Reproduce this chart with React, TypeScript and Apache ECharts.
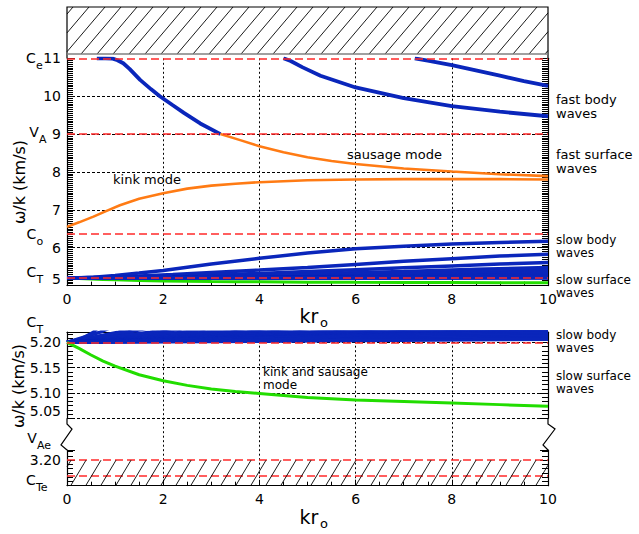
import React, { useEffect, useRef } from 'react';
import * as echarts from 'echarts';

const FONT = 'DejaVu Sans';
const BLUE = '#0a26bb';
const ORANGE = '#ff7b14';
const GREEN = '#22dd00';
const RED = '#ff2a2a';

// x axis (kr_o)
const KR_MIN = 0;
const KR_MAX = 10;
const KR_STEP = 2;

// characteristic speeds (km/s)
const C_E = 11.0;
const V_A = 9.0;
const C_O = 6.36;
const C_T = 5.2;
const V_AE = 3.2;
const C_TE = 3.168;

// y ranges
const TOP_Y = [5, 11];
const TOP_Y_STEP = 1;
const BOT_UP_Y = [5.05, 5.22];
const BOT_UP_STEP = 0.05;
const BOT_UP_LABELS = ['5.05', '5.10', '5.15', '5.20'];
const BOT_LOW_Y = [3.15, 3.22];
const BOT_LOW_STEP = 0.05;
const BOT_LOW_LABELS = ['3.20'];

// fast body waves [kr, w/k]
const FAST_BODY_1 = [[0.62, 11.0], [0.8, 11.0], [0.95, 10.99], [1.05, 10.95], [1.17, 10.87], [1.3, 10.72], [1.52, 10.43], [1.75, 10.18], [1.93, 10.0], [2.2, 9.76], [2.43, 9.56], [2.77, 9.28], [3.19, 9.0]];
const FAST_BODY_2 = [[4.5, 11.0], [4.65, 10.93], [4.9, 10.76], [5.27, 10.54], [6, 10.23], [7, 9.95], [8, 9.74], [9, 9.59], [10, 9.47]];
const FAST_BODY_3 = [[7.23, 11.0], [7.5, 10.94], [8, 10.82], [8.5, 10.68], [9, 10.54], [9.5, 10.4], [10, 10.27]];

// fast surface waves
const SAUSAGE_SURFACE = [[3.19, 9.0], [3.6, 8.84], [4, 8.68], [4.5, 8.52], [5, 8.39], [5.5, 8.29], [6, 8.21], [7, 8.09], [8, 8.01], [9, 7.94], [10, 7.89]];
const KINK_SURFACE = [[0, 6.55], [0.25, 6.67], [0.55, 6.82], [0.8, 6.96], [1.1, 7.12], [1.5, 7.29], [2, 7.44], [2.5, 7.56], [3, 7.64], [3.5, 7.69], [4, 7.73], [5, 7.78], [6, 7.8], [7, 7.81], [8, 7.81], [9, 7.81], [10, 7.8]];

// slow surface wave (kink and sausage)
const SLOW_SURFACE = [[0, 5.2], [0.25, 5.188], [0.5, 5.175], [0.75, 5.163], [1, 5.153], [1.5, 5.136], [2, 5.124], [2.5, 5.115], [3, 5.108], [3.5, 5.103], [4, 5.099], [5, 5.091], [6, 5.086], [7, 5.083], [8, 5.08], [9, 5.077], [10, 5.074]];

// slow body waves (harmonics)
const SLOW_BODY = [
  [[0, 5.2], [0.3, 5.207], [0.55, 5.22], [1, 5.265], [1.5, 5.33], [2, 5.4], [3, 5.57], [4, 5.72], [5, 5.86], [6, 5.97], [7, 6.04], [8, 6.1], [9, 6.14], [10, 6.17]],
  [[0, 5.2], [0.69, 5.22], [1.5, 5.255], [2.2, 5.29], [3, 5.345], [4, 5.41], [5, 5.48], [6, 5.56], [7, 5.64], [8, 5.71], [9, 5.78], [10, 5.83]],
  [[0, 5.2], [1.07, 5.22], [2, 5.245], [3, 5.28], [4, 5.32], [5, 5.37], [6, 5.42], [7, 5.47], [8, 5.52], [9, 5.57], [10, 5.61]],
  [[0, 5.2], [1.27, 5.22], [3, 5.255], [5, 5.31], [7, 5.37], [8.5, 5.43], [10, 5.48]],
  [[0, 5.2], [1.73, 5.22], [4, 5.26], [6, 5.31], [8, 5.37], [10, 5.44]],
  [[0, 5.2], [1.94, 5.22], [4, 5.25], [6, 5.29], [8, 5.34], [10, 5.4]],
  [[0, 5.2], [2.42, 5.22], [5, 5.255], [7.5, 5.3], [10, 5.36]],
  [[0, 5.2], [2.91, 5.22], [5, 5.24], [7.5, 5.28], [10, 5.33]],
  [[0, 5.2], [3.4, 5.22], [6, 5.245], [8, 5.27], [10, 5.3]],
  [[0, 5.2], [3.74, 5.22], [6, 5.24], [8, 5.26], [10, 5.285]],
  [[0, 5.2], [4.16, 5.22], [7, 5.245], [10, 5.27]],
  [[0, 5.2], [4.7, 5.22], [7, 5.235], [10, 5.255]],
  [[0, 5.2], [5.06, 5.22], [7.5, 5.232], [10, 5.245]],
  [[0, 5.2], [5.54, 5.22], [8, 5.23], [10, 5.237]],
  [[0, 5.2], [6.03, 5.22], [8, 5.226], [10, 5.232]],
  [[0, 5.2], [6.57, 5.22], [10, 5.228]],
  [[0, 5.2], [7.0, 5.22], [10, 5.226]],
  [[0, 5.2], [7.62, 5.22], [10, 5.224]],
  [[0, 5.2], [8.18, 5.22], [10, 5.2225]],
  [[0, 5.2], [8.74, 5.22], [10, 5.2215]],
  [[0, 5.2], [9.3, 5.22], [10, 5.2208]],
  [[0, 5.2], [9.7, 5.22], [10, 5.2203]],
  [[0, 5.2], [10, 5.218]],
  [[0, 5.2], [10, 5.215]],
  [[0, 5.2], [10, 5.212]],
  [[0, 5.2], [10, 5.209]],
  [[0, 5.2], [10, 5.206]],
];

// ---------- layout (px) ----------
const L = 67;
const W = 481;
const R = L + W;
const G0_T = 58.3, G0_B = 285.6;
const G1_T = 332.2, G1_B = 418.3;
const G2_T = 450, G2_B = 485.7;

function hatchLines(x0: number, y0: number, x1: number, y1: number, spacing: number, k: number, phase: number) {
  const h = y1 - y0;
  const els: any[] = [];
  for (let c = x0 - k * h + phase; c < x1; c += spacing) {
    const ya = Math.max(y0, y1 - (x1 - c) / k);
    const yb = Math.min(y1, y1 - (x0 - c) / k);
    if (yb - ya < 0.5) continue;
    els.push({
      type: 'line', silent: true, z: 20,
      shape: { x1: c + k * (y1 - yb), y1: yb, x2: c + k * (y1 - ya), y2: ya },
      style: { stroke: '#000', lineWidth: 0.9 },
    });
  }
  return els;
}

function txt(text: string, x: number, y: number, size: number, align = 'center', extra: any = {}, lineHeight?: number) {
  return {
    type: 'text', x, y, silent: true, z: 30, ...extra,
    style: {
      text, fontSize: size, fontFamily: FONT, fill: '#000', lineHeight: lineHeight ?? size - 2,
      align, verticalAlign: 'middle', textAlign: align, textVerticalAlign: 'middle',
    },
  };
}

// letter with subscript, as two texts
function sub(main: string, s: string, x: number, y: number) {
  return [txt(main, x, y, 14), txt(s, x + 5, y + 7, 11, 'left')];
}

function poly(points: number[][], stroke = '#000', lineWidth = 1.2) {
  return { type: 'polyline', silent: true, z: 25, shape: { points }, style: { stroke, lineWidth, fill: 'none' } };
}

const axisText = { fontSize: 14, fontFamily: FONT, color: '#000' };
const blackLine = { show: true, lineStyle: { color: '#000', width: 1.2 } };

function yAxisCfg(grid: number, range: number[], step: number, pos: 'left' | 'right', labels: ((v: number) => string) | null, split: boolean, minorSplit: number) {
  return {
    type: 'value', gridIndex: grid, min: range[0], max: range[1], interval: step, position: pos,
    axisLine: blackLine,
    axisTick: { show: true, inside: true, length: 8, lineStyle: { color: '#000', width: 1 } },
    minorTick: { show: true, splitNumber: minorSplit, length: 6, lineStyle: { color: '#000', width: 1 } },
    axisLabel: labels ? { show: true, ...axisText, margin: 6, formatter: labels, verticalAlignMinLabel: 'bottom' } : { show: false },
    splitLine: split ? { show: true, showMaxLine: false, lineStyle: { color: '#000', type: [3, 2], width: 1 } } : { show: false },
  };
}

function lineSeries(data: number[][], color: string, width: number, xi: number, yi: number, z = 2) {
  return {
    type: 'line', xAxisIndex: xi, yAxisIndex: yi, data, showSymbol: false, symbol: 'none',
    lineStyle: { color, width }, itemStyle: { color }, silent: true, animation: false, z, clip: true,
    emphasis: { disabled: true },
  };
}

function redLines(xi: number, yi: number, values: number[]) {
  return {
    type: 'line', xAxisIndex: xi, yAxisIndex: yi, data: [], silent: true, z: 10,
    markLine: {
      silent: true, symbol: ['none', 'none'], animation: false, label: { show: false },
      lineStyle: { color: RED, type: [8, 4], width: 1.5 },
      emphasis: { disabled: true },
      data: values.map((v) => ({ yAxis: v })),
    },
  };
}

export default function App() {
  const ref = useRef<HTMLDivElement>(null);
  useEffect(() => {
    document.body.style.margin = '0';
    if (!ref.current) return;
    const chart = echarts.init(ref.current, undefined, { renderer: 'svg' });

    const topFmt = (v: number) => (Number.isInteger(v) ? String(v) : '');
    const upFmt = (v: number) => { const s = v.toFixed(2); return BOT_UP_LABELS.includes(s) && Math.abs(v - parseFloat(s)) < 1e-6 ? s : ''; };
    const lowFmt = (v: number) => { const s = v.toFixed(2); return BOT_LOW_LABELS.includes(s) && Math.abs(v - parseFloat(s)) < 1e-6 ? s : ''; };

    const series: any[] = [];
    SLOW_BODY.forEach((d) => series.push(lineSeries(d, BLUE, 3.5, 0, 0)));
    [FAST_BODY_1, FAST_BODY_2, FAST_BODY_3].forEach((d) => series.push(lineSeries(d, BLUE, 3.8, 0, 0)));
    series.push(lineSeries(KINK_SURFACE, ORANGE, 2.6, 0, 0, 3));
    series.push(lineSeries(SAUSAGE_SURFACE, ORANGE, 2.6, 0, 0, 3));
    series.push(lineSeries(SLOW_SURFACE, GREEN, 3, 0, 0, 1));
    series.push(redLines(0, 0, [C_E, V_A, C_O, C_T]));
    SLOW_BODY.forEach((d) => series.push(lineSeries(d, BLUE, 3.5, 1, 2)));
    series.push(lineSeries(SLOW_SURFACE, GREEN, 3, 1, 2, 3));
    series.push(redLines(1, 2, [C_T]));
    series.push(redLines(2, 4, [V_AE, C_TE]));

    const graphics: any[] = [
      // hatched forbidden region above C_e
      poly([[L, G0_T], [L, 7], [R, 7], [R, G0_T]]),
      { type: 'line', silent: true, z: 25, shape: { x1: L, y1: 54, x2: R, y2: 54 }, style: { stroke: '#808080', lineWidth: 1.5 } },
      ...hatchLines(L, 7, R, 54, 16, 0.85, 6),
      // hatched region below V_Ae
      ...hatchLines(L, G2_T + 10.2, R, G2_B, 15, 0.6, 4),
      // broken axis zigzags
      poly([[L, G1_B], [L, 424], [72, 429], [61, 445], [L, G2_T]]),
      poly([[R, G1_B], [R, 424], [555, 429], [543, 445], [R, G2_T]]),
      // left labels
      ...sub('C', 'e', 31, 58),
      ...sub('V', 'A', 34, 132),
      ...sub('C', 'o', 31.5, 234),
      ...sub('C', 'T', 31.5, 272),
      ...sub('C', 'T', 31.5, 322),
      ...sub('V', 'Ae', 32, 438),
      ...sub('C', 'Te', 31, 480),
      // axis titles
      txt('ω/k (km/s)', 19, 182, 16, 'center', { rotation: Math.PI / 2 }),
      txt('ω/k (km/s)', 18, 386, 16, 'center', { rotation: Math.PI / 2 }),
      txt('kr', 309, 316, 19), txt('o', 320, 322.5, 13, 'left'),
      txt('kr', 309, 517, 19), txt('o', 320, 523.5, 13, 'left'),
      // right labels
      txt('fast body\nwaves', 556, 106, 13, 'left', {}, 14),
      txt('fast surface\nwaves', 556, 161, 13, 'left', {}, 14),
      txt('slow body\nwaves', 556, 246.8, 12, 'left', {}, 13.2),
      txt('slow surface\nwaves', 556, 286.8, 12, 'left', {}, 13.2),
      txt('slow body\nwaves', 556, 341.8, 12, 'left', {}, 13.2),
      txt('slow surface\nwaves', 556, 382.8, 12, 'left', {}, 13.2),
      // in-plot labels
      txt('sausage mode', 347, 154, 13, 'left'),
      txt('kink mode', 113, 179, 13, 'left'),
      txt('kink and sausage\nmode', 263, 378.3, 12, 'left', {}, 13.2),
    ];

    const xBase = { type: 'value', min: KR_MIN, max: KR_MAX, interval: KR_STEP };
    const option: any = {
      animation: false,
      backgroundColor: '#fff',
      grid: [
        { left: L, top: G0_T, width: W, height: G0_B - G0_T, outerBoundsMode: 'none', containLabel: false },
        { left: L, top: G1_T, width: W, height: G1_B - G1_T, outerBoundsMode: 'none', containLabel: false },
        { left: L, top: G2_T, width: W, height: G2_B - G2_T, outerBoundsMode: 'none', containLabel: false },
        { left: L, top: G1_T, width: W, height: G2_B - G1_T, outerBoundsMode: 'none', containLabel: false },
      ],
      xAxis: [
        {
          ...xBase, gridIndex: 0, position: 'bottom',
          axisLine: blackLine,
          axisTick: { show: true, inside: true, length: 6, lineStyle: { color: '#000' } },
          minorTick: { show: true, splitNumber: 4, length: 4, lineStyle: { color: '#000' } },
          axisLabel: { ...axisText, margin: 6 },
          splitLine: { show: true, showMinLine: false, showMaxLine: false, lineStyle: { color: '#000', type: [2, 2.5], width: 1 } },
        },
        {
          ...xBase, gridIndex: 1, position: 'top',
          axisLine: blackLine, axisTick: { show: false }, axisLabel: { show: false }, splitLine: { show: false },
        },
        {
          ...xBase, gridIndex: 2, position: 'bottom',
          axisLine: blackLine,
          axisTick: { show: true, inside: true, length: 6, lineStyle: { color: '#000' } },
          minorTick: { show: true, splitNumber: 4, length: 4, lineStyle: { color: '#000' } },
          axisLabel: { ...axisText, margin: 6 },
          splitLine: { show: false },
        },
        {
          ...xBase, gridIndex: 3, position: 'bottom',
          axisLine: { show: false }, axisTick: { show: false }, axisLabel: { show: false },
          splitLine: { show: true, showMinLine: false, showMaxLine: false, lineStyle: { color: '#000', type: [2, 2.5], width: 1 } },
        },
      ],
      yAxis: [
        yAxisCfg(0, TOP_Y, TOP_Y_STEP, 'left', topFmt, true, 20),
        yAxisCfg(0, TOP_Y, TOP_Y_STEP, 'right', null, false, 20),
        yAxisCfg(1, BOT_UP_Y, BOT_UP_STEP, 'left', upFmt, true, 6),
        yAxisCfg(1, BOT_UP_Y, BOT_UP_STEP, 'right', null, false, 6),
        yAxisCfg(2, BOT_LOW_Y, BOT_LOW_STEP, 'left', lowFmt, false, 6),
        yAxisCfg(2, BOT_LOW_Y, BOT_LOW_STEP, 'right', null, false, 6),
        { type: 'value', gridIndex: 3, show: false, min: 0, max: 1 },
      ],
      series,
      graphic: { elements: graphics },
    };
    chart.setOption(option);
    return () => chart.dispose();
  }, []);
  return <div ref={ref} style={{ width: 639, height: 534, position: 'fixed', left: 0, top: 0 }} />;
}
